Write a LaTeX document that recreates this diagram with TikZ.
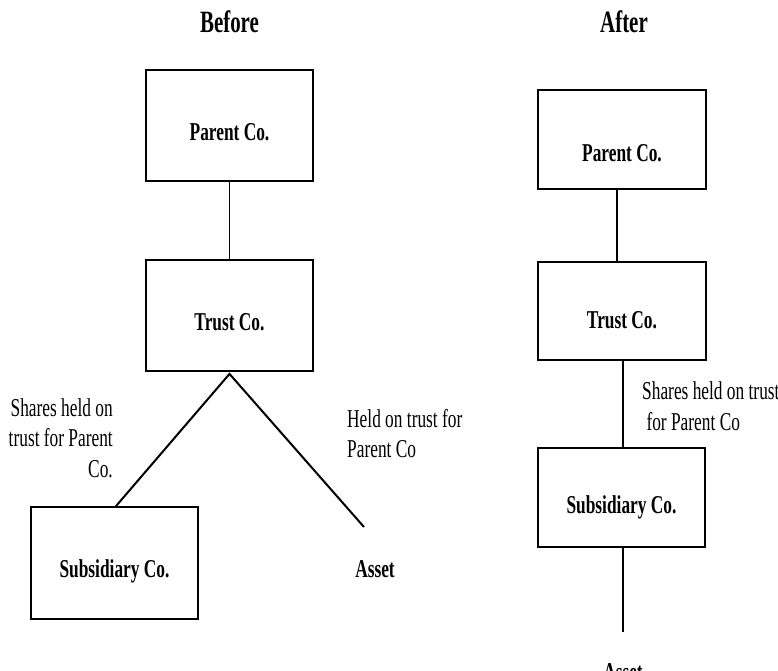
\documentclass[tikz,border=0pt]{standalone}
\usepackage{fontspec}
\setmainfont{Liberation Serif}[FakeStretch=0.675]
\usetikzlibrary{calc}
\begin{document}
\begin{tikzpicture}[x=1pt,y=-1pt,
  box/.style={draw,line width=1.8pt,minimum width=167pt,inner sep=0pt},
  lbl/.style={font=\fontsize{25.7}{31}\selectfont\bfseries,inner sep=0pt},
  ttl/.style={font=\fontsize{31}{37}\selectfont\bfseries,inner sep=0pt},
  note/.style={font=\fontsize{25.7}{30.5}\selectfont,inner sep=0pt},
  vline/.style={line width=1.4pt},
  dline/.style={line width=2pt}]
\useasboundingbox (0,0) rectangle (778,670);
% Titles
\node[ttl,anchor=base] (tb) at (229.5,32) {Before};
\node[ttl,anchor=base] (ta) at (624,32) {After};
% Before
\node[box,minimum height=111pt] (bp) at (229.5,125.5) {};
\node[lbl,anchor=base] (bpt) at (229.5,140) {Parent Co.};
\node[box,minimum height=111pt] (bt) at (229.5,315.5) {};
\node[lbl,anchor=base] (btt) at (229.5,330) {Trust Co.};
\node[box,minimum height=112pt] (bs) at (114.5,563) {};
\node[lbl,anchor=base] (bst) at (114.5,577) {Subsidiary Co.};
\node[lbl,anchor=base] (ba) at (375,577) {Asset};
\coordinate (bae) at (364,527);
\coordinate (bsx) at (116,0);
\draw[vline] (bp.south) -- (bt.north);
\draw[dline] (bsx |- bs.north) -- ($(bt.south)+(0,2)$) -- (bae);
\node[note,anchor=base east,align=right] (bl) at (113,477) {Shares held on\\trust for Parent\\Co.};
\node[note,anchor=base west,align=left] (br) at (347,457.5) {Held on trust for\\Parent Co};
% After
\node[box,minimum width=168pt,minimum height=99pt] (ap) at (622,139.5) {};
\node[lbl,anchor=base] (apt) at (622,161.5) {Parent Co.};
\node[box,minimum width=168pt,minimum height=98pt] (at) at (622,311) {};
\node[lbl,anchor=base] (att) at (622,328) {Trust Co.};
\node[box,minimum width=167pt,minimum height=99pt] (as) at (621.5,497.5) {};
\node[lbl,anchor=base] (ast) at (621.5,513) {Subsidiary Co.};
\node[lbl,anchor=base] (aa) at (623,680) {Asset};
\coordinate (ax1) at (617,0);
\coordinate (ax2) at (623,0);
\coordinate (aae) at (623,632);
\draw[vline] (ax1 |- ap.south) -- (ax1 |- at.north);
\draw[vline] (ax2 |- at.south) -- (ax2 |- as.north);
\draw[vline] (ax2 |- as.south) -- (aae);
\node[note,anchor=base west,align=left] (al) at (642,430) {Shares held on trust\\\ for Parent Co};
\end{tikzpicture}
\end{document}
